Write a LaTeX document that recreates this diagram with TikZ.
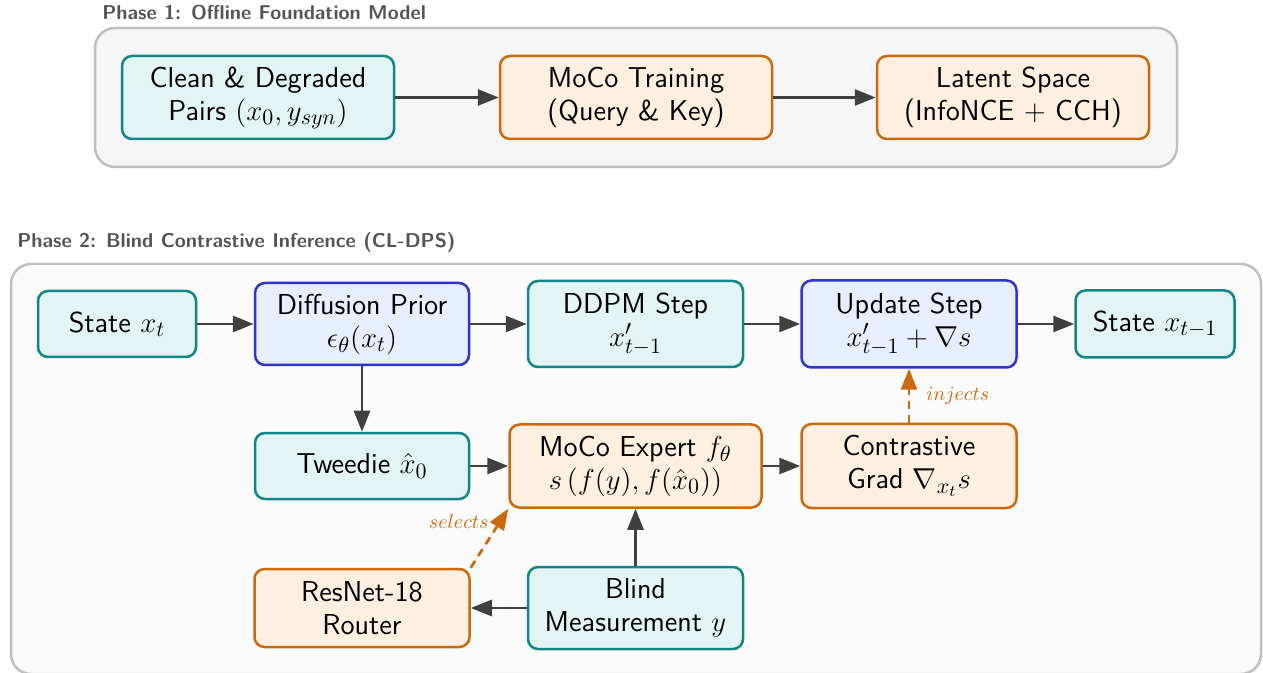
\documentclass[tikz,border=0pt]{standalone}
\usepackage{fontspec}
\usetikzlibrary{arrows.meta}
% slightly larger formulas inside the boxes
\DeclareMathSizes{14.4}{15.7}{11}{8}
\definecolor{tealline}{RGB}{18,133,133}
\definecolor{tealfill}{RGB}{227,244,244}
\definecolor{orangeline}{RGB}{204,104,14}
\definecolor{orangefill}{RGB}{254,240,224}
\definecolor{blueline}{RGB}{50,50,204}
\definecolor{bluefill}{RGB}{231,238,253}
\definecolor{framegray}{RGB}{192,192,192}
\definecolor{titlegray}{RGB}{85,85,85}
\definecolor{arrowgray}{RGB}{64,64,64}
\tikzset{
  box/.style={draw, line width=1.25pt, rounded corners=5pt, align=center,
    inner sep=0pt, font=\sffamily\fontsize{14.4}{16.5}\selectfont},
  tealbox/.style={box, draw=tealline, fill=tealfill},
  orangebox/.style={box, draw=orangeline, fill=orangefill},
  bluebox/.style={box, draw=blueline, fill=bluefill},
  frame/.style={draw=framegray, line width=1.25pt, rounded corners=10pt},
  phasetitle/.style={anchor=west, inner sep=0pt, text=titlegray,
    font=\sffamily\bfseries\fontsize{10}{12}\selectfont},
  arr/.style={draw=arrowgray, line width=1.4pt,
    -{Triangle[length=10.5pt,width=8pt]}, fill=arrowgray},
  dasharr/.style={draw=orangeline, line width=1.4pt, dash pattern=on 4pt off 3pt,
    -{Triangle[length=10.5pt,width=8pt]}, fill=orangeline},
  edgelabel/.style={text=orangeline, font=\fontsize{10}{12}\selectfont, inner sep=0pt}
}
\begin{document}
\begin{tikzpicture}[x=0.5pt, y=-0.5pt]
\useasboundingbox (0,0) rectangle (1263,673);

% Phase 1 frame
\draw[frame, fill=gray!7] (95,28) rectangle (1177,167);
\node[phasetitle] (t1) at (102,13) {Phase 1: Offline Foundation Model};

\node[tealbox, minimum width=136pt, minimum height=41.5pt] (clean) at (258,97.5)
  {Clean \& Degraded\\Pairs $(x_0, y_{syn})$};
\node[orangebox, minimum width=136pt, minimum height=41.5pt] (moco) at (636,97.5)
  {MoCo Training\\(Query \& Key)};
\node[orangebox, minimum width=136pt, minimum height=41.5pt] (latent) at (1013,97.5)
  {Latent Space\\(InfoNCE + CCH)};

\draw[arr] (clean) -- (moco);
\draw[arr] (moco) -- (latent);

% Phase 2 frame
\draw[frame, fill=gray!3] (11,264) rectangle (1261,674);
\node[phasetitle] (t2) at (17,243) {Phase 2: Blind Contrastive Inference (CL-DPS)};

\node[tealbox, minimum width=79pt, minimum height=33pt] (xt) at (117,324)
  {State $x_t$};
\node[bluebox, minimum width=107pt, minimum height=41pt] (prior) at (362,324)
  {Diffusion Prior\\$\epsilon_\theta(x_t)$};
\node[tealbox, minimum width=107.5pt, minimum height=43pt] (ddpm) at (635.5,324)
  {DDPM Step\\$x'_{t-1}$};
\node[bluebox, minimum width=107.5pt, minimum height=43.5pt] (update) at (909,324)
  {Update Step\\$x'_{t-1} + \nabla s$};
\node[tealbox, minimum width=79.5pt, minimum height=33.5pt] (xt1) at (1155,324)
  {State $x_{t-1}$};

\node[tealbox, minimum width=107pt, minimum height=33pt] (tweedie) at (362,466)
  {Tweedie $\hat{x}_0$};
\node[orangebox, minimum width=126pt, minimum height=41.5pt] (expert) at (635.5,466)
  {MoCo Expert $f_\theta$\\$s\left(f(y), f(\hat{x}_0)\right)$};
\node[orangebox, minimum width=107.5pt, minimum height=42pt] (grad) at (909,466)
  {Contrastive\\Grad $\nabla_{x_t} s$};

\node[orangebox, minimum width=107.5pt, minimum height=39pt] (router) at (362,608)
  {ResNet-18\\Router};
\node[tealbox, minimum width=107.5pt, minimum height=41pt] (blind) at (635.5,608)
  {Blind\\Measurement $y$};

% main flow
\draw[arr] (xt) -- (prior);
\draw[arr] (prior) -- (ddpm);
\draw[arr] (ddpm) -- (update);
\draw[arr] (update) -- (xt1);
\draw[arr] (prior) -- (tweedie);
\draw[arr] (tweedie) -- (expert);
\draw[arr] (expert) -- (grad);
\draw[arr] (blind.north) -- (blind.north |- expert.south);
\draw[arr] (blind) -- (router);

% guidance links
\draw[dasharr] (grad) -- node[edgelabel, right=8pt, pos=0.5] (inj) {$injects$} (update);
\draw[dasharr] (router.north east) -- node[edgelabel, left=5pt, pos=0.78] (sel) {$selects$} (expert.south west);
\end{tikzpicture}
\end{document}
